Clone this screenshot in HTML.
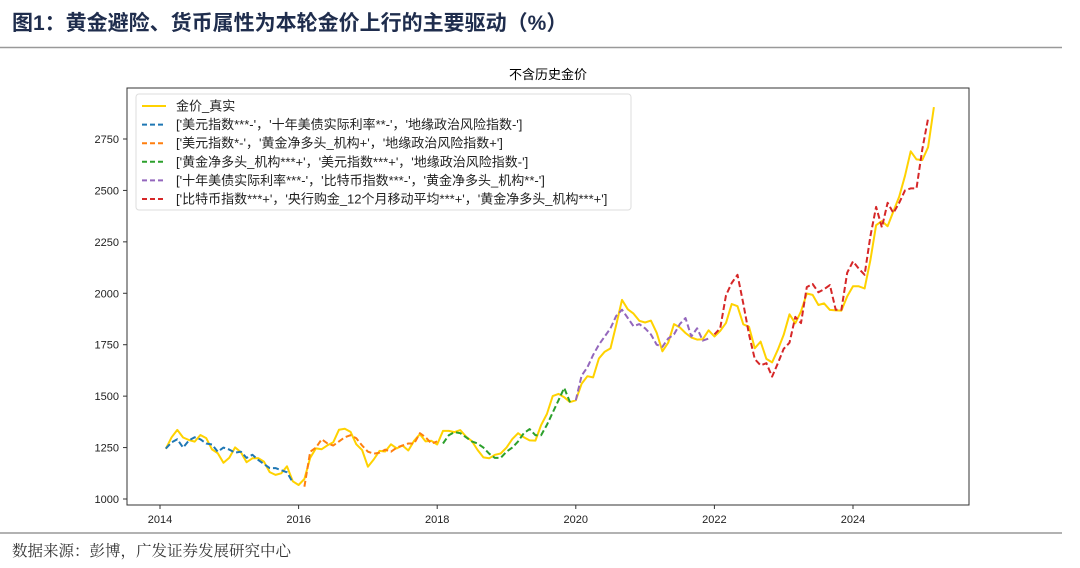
<!DOCTYPE html>
<html><head><meta charset="utf-8"><style>
body{margin:0;background:#fff;width:1080px;height:568px;overflow:hidden}
svg{display:block}
text{font-family:"Liberation Sans","Noto Sans CJK SC",sans-serif}
</style></head><body>
<svg id="c" width="1080" height="568" xmlns="http://www.w3.org/2000/svg">
<text x="12" y="30" font-size="21" font-weight="bold" fill="#1f2d4d">图1：黄金避险、货币属性为本轮金价上行的主要驱动（%）</text>
<line x1="0" y1="47.5" x2="1062" y2="47.5" stroke="#999" stroke-width="1.5"/>
<text x="548" y="79" font-size="13" text-anchor="middle" fill="#000">不含历史金价</text>
<g id="grid"></g>
<g id="series"></g>
<rect x="127" y="88" width="842" height="417" fill="none" stroke="#333" stroke-width="1"/>
<g id="legend"></g>
<line x1="0" y1="533" x2="1062" y2="533" stroke="#999" stroke-width="1.5"/>
<text x="12" y="556" font-size="15.5" fill="#333" style="font-family:'Liberation Serif','Noto Serif CJK SC',serif">数据来源：彭博，广发证券发展研究中心</text>
</svg>
<script>
const xTicks=[2014,2016,2018,2020,2022,2024];
const yTicks=[1000,1250,1500,1750,2000,2250,2500,2750];
const goldReal=[1244,1300,1336,1299,1287,1279,1311,1296,1241,1223,1176,1201,
1251,1227,1179,1198,1199,1182,1131,1117,1125,1159,1086,1068,
1097,1200,1246,1242,1261,1276,1337,1341,1326,1266,1238,1157,
1192,1234,1231,1266,1246,1260,1236,1283,1315,1280,1283,1265,
1331,1331,1325,1335,1303,1282,1238,1202,1198,1215,1221,1250,
1291,1320,1300,1285,1284,1359,1413,1500,1511,1495,1471,1480,
1560,1597,1591,1683,1716,1732,1846,1968,1922,1901,1866,1858,
1867,1808,1718,1760,1850,1834,1807,1785,1775,1777,1820,1790,
1817,1856,1948,1937,1849,1837,1733,1765,1681,1664,1726,1798,
1898,1854,1912,1999,1992,1943,1951,1919,1917,1916,1985,2034,
2034,2023,2159,2331,2351,2326,2398,2470,2571,2690,2651,2648,
2710,2905];
const blueStart=1;
const blueVals=[1245,1275,1290,1250,1285,1300,1290,1270,1265,1230,1250,1240,1225,1230,1200,1215,1190,1170,1150,1150,1140,1130,1080];
const orangeStart=25;
const orangeVals=[1060,1230,1250,1290,1270,1260,1280,1300,1310,1295,1260,1230,1220,1225,1240,1230,1250,1260,1270,1270,1320,1300,1270,1280];
const greenStart=49;
const greenVals=[1270,1310,1325,1320,1300,1280,1270,1250,1220,1200,1200,1230,1250,1280,1320,1340,1310,1310,1360,1420,1480,1540,1470];
const purpleStart=72;
const purpleVals=[1480,1600,1640,1700,1750,1790,1830,1890,1920,1880,1840,1850,1830,1800,1750,1740,1780,1800,1850,1880,1790,1830,1770,1780];
const redStart=96;
const redVals=[1800,1830,1990,2050,2090,1950,1800,1680,1650,1660,1595,1660,1730,1760,1885,1855,2030,2045,2005,2020,2040,1920,1920,2100,2155,2120,2090,2275,2420,2320,2440,2390,2440,2500,2510,2510,2700,2850];
const legendLabels=["金价_真实","['美元指数***-'，'十年美债实际利率**-'，'地缘政治风险指数-']","['美元指数*-'，'黄金净多头_机构+'，'地缘政治风险指数+']","['黄金净多头_机构***+'，'美元指数***+'，'地缘政治风险指数-']","['十年美债实际利率***-'，'比特币指数***-'，'黄金净多头_机构**-']","['比特币指数***+'，'央行购金_12个月移动平均***+'，'黄金净多头_机构***+']"];
const colors=["#ffd200","#1f77b4","#ff7f0e","#2ca02c","#9467bd","#d62728"];
const NS="http://www.w3.org/2000/svg";
const X=y=>160+(y-2014)*69.3;
const Y=v=>499-(v-1000)*51.43/250;
const xm=i=>X(2014+i/12);
function mk(t,a,p){const e=document.createElementNS(NS,t);for(const k in a)e.setAttribute(k,a[k]);p.appendChild(e);return e;}
const grid=document.getElementById('grid');
xTicks.forEach(t=>{
 const l=mk('line',{x1:X(t),x2:X(t),y1:505,y2:509,stroke:'#333'},grid);
 
 
 const tx=mk('text',{x:X(t),y:523,'font-size':11,'text-anchor':'middle',fill:'#222'},grid);tx.textContent=t;
 
 
});
yTicks.forEach(t=>{
 const l=mk('line',{x1:123,x2:127,y1:Y(t),y2:Y(t),stroke:'#333'},grid);
 
 
 const tx=mk('text',{x:119,y:Y(t)+4,'font-size':11,'text-anchor':'end',fill:'#222'},grid);tx.textContent=t;
 
 
});
const sg=document.getElementById('series');
function line(vals,start,color,dash,name){
 const pts=vals.map((v,i)=>xm(start+i).toFixed(1)+','+Y(v).toFixed(1)).join(' ');
 const p=mk('polyline',{points:pts,fill:'none',stroke:color,'stroke-width':2,'stroke-dasharray':dash||'none','stroke-linejoin':'round'},sg);
 
 
}
line(goldReal,1,colors[0],null,'gold-real-line');
line(blueVals,blueStart,colors[1],'6,3','model-1-line');
line(orangeVals,orangeStart,colors[2],'6,3','model-2-line');
line(greenVals,greenStart,colors[3],'6,3','model-3-line');
line(purpleVals,purpleStart,colors[4],'6,3','model-4-line');
line(redVals,redStart,colors[5],'6,3','model-5-line');
const lg=document.getElementById('legend');
const bx=mk('rect',{x:136,y:94,width:495,height:116,rx:3,fill:'#fff','fill-opacity':0.85,stroke:'#ddd'},lg);


legendLabels.forEach((s,i)=>{
 const y=106+i*18.6;
 const l=mk('line',{x1:142,x2:166,y1:y,y2:y,stroke:colors[i],'stroke-width':2,'stroke-dasharray':i?'5,3':'none'},lg);
 
 
 const t=mk('text',{x:176,y:y+4.5,'font-size':13,fill:'#222'},lg);t.textContent=s;
 
 
});
</script>
</body></html>
